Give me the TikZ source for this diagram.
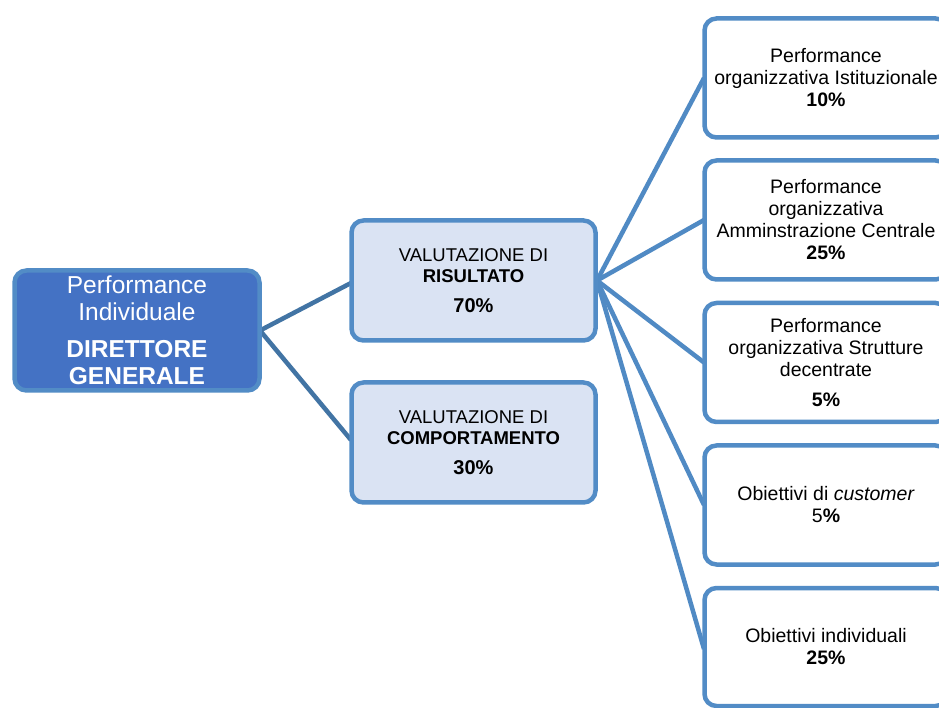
\documentclass[tikz,border=0pt]{standalone}
\usepackage{fontspec}
\setmainfont{Liberation Sans}
\definecolor{bord}{RGB}{82,140,198}
\definecolor{rootfill}{RGB}{68,114,196}
\definecolor{midfill}{RGB}{218,227,243}
\definecolor{rootline}{RGB}{66,116,164}
\definecolor{rline}{RGB}{80,138,196}
\newcommand{\bigpct}[1]{{\fontsize{20}{21}\selectfont\textbf{#1}}}
\tikzset{
  box/.style={draw=bord, line width=4.5pt, rounded corners=12pt, align=center, inner sep=0pt},
  rootbox/.style={box, fill=rootfill, text=white, minimum width=245pt, minimum height=120pt,
     font=\fontsize{24.5}{27}\selectfont},
  midbox/.style={box, fill=midfill, minimum width=244pt, minimum height=120pt,
     font=\fontsize{18.5}{21}\selectfont},
  rbox/.style={box, fill=white, minimum width=243pt, minimum height=119pt,
     font=\fontsize{19.5}{22}\selectfont},
  conn1/.style={draw=rootline, line width=4.5pt},
  conn2/.style={draw=rline, line width=4.5pt},
}
\begin{document}
\begin{tikzpicture}[x=1pt,y=1pt]
\clip (0,0) rectangle (939,707);
\fill[white] (0,0) rectangle (939,707);
% connectors (drawn first, under the boxes)
\coordinate (rootE) at (260,376.5);
\coordinate (risW) at (351,424);
\coordinate (compW) at (351,267);
\coordinate (risE) at (597,426.5);
\coordinate (r1W) at (704,629);
\coordinate (r2W) at (704,487);
\coordinate (r3W) at (704,344.5);
\coordinate (r4W) at (704,202);
\coordinate (r5W) at (704,58);
\draw[conn1] (rootE) -- (risW);
\draw[conn1] (rootE) -- (compW);
\foreach \t in {r1W,r2W,r3W,r4W,r5W} \draw[conn2] (risE) -- (\t);
% boxes
\node[rootbox] (root) at (137,376.5) {Performance\\Individuale\\[10pt]\textbf{DIRETTORE}\\\textbf{GENERALE}};
\node[midbox] (ris) at (473.5,426.5) {VALUTAZIONE DI\\\textbf{RISULTATO}\\[9pt]\bigpct{70\%}};
\node[midbox] (comp) at (473.5,264.5) {VALUTAZIONE DI\\\textbf{COMPORTAMENTO}\\[9pt]\bigpct{30\%}};
\node[rbox] (r1) at (826,629) {Performance\\organizzativa Istituzionale\\\textbf{10\%}};
\node[rbox] (r2) at (826,487) {Performance\\organizzativa\\Amminstrazione Centrale\\\textbf{25\%}};
\node[rbox] (r3) at (826,344.5) {Performance\\organizzativa Strutture\\decentrate\\[8pt]\textbf{5\%}};
\node[rbox] (r4) at (826,202) {Obiettivi di \textit{customer}\\5\textbf{\%}};
\node[rbox, minimum height=118pt] (r5) at (826,60) {Obiettivi individuali\\\textbf{25\%}};
\end{tikzpicture}
\end{document}
